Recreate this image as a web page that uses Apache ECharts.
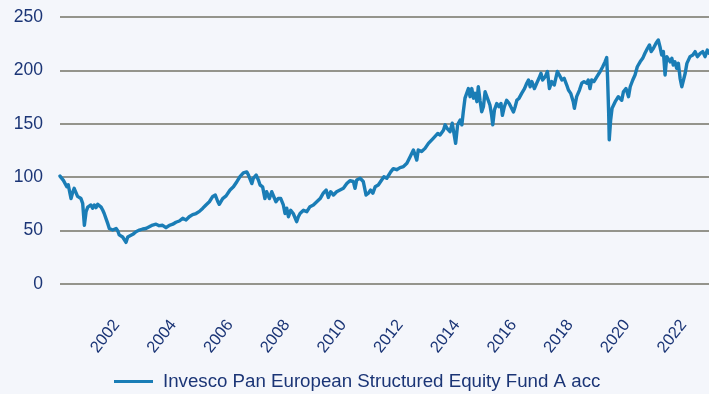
<!DOCTYPE html>
<html>
<head>
<meta charset="utf-8">
<script src="https://cdn.jsdelivr.net/npm/echarts@6/dist/echarts.min.js"></script>
<style>
  html, body { margin: 0; padding: 0; background: #f4f6fb; }
  #chart { width: 709px; height: 394px; }
</style>
</head>
<body>
<div id="chart"></div>
<script>
// Fund performance, rebased to 100 at the start of the period
const seriesName = 'Invesco Pan European Structured Equity Fund A acc';

// Time positions in decimal years
const years = [
  2000.00, 2000.04, 2000.12, 2000.19, 2000.24, 2000.29, 2000.35, 2000.39, 2000.45, 2000.50,
  2000.56, 2000.62, 2000.68, 2000.74, 2000.80, 2000.86, 2000.92, 2000.98, 2001.03, 2001.09,
  2001.15, 2001.21, 2001.27, 2001.33, 2001.39, 2001.45, 2001.51, 2001.56, 2001.62, 2001.68,
  2001.74, 2001.80, 2001.86, 2001.92, 2001.98, 2002.04, 2002.09, 2002.15, 2002.21, 2002.27,
  2002.33, 2002.39, 2002.45, 2002.57, 2002.68, 2002.80, 2002.92, 2003.03, 2003.15, 2003.27,
  2003.39, 2003.50, 2003.62, 2003.74, 2003.86, 2003.98, 2004.09, 2004.21, 2004.33, 2004.45,
  2004.56, 2004.68, 2004.80, 2004.92, 2005.04, 2005.15, 2005.27, 2005.39, 2005.48, 2005.57,
  2005.62, 2005.68, 2005.74, 2005.86, 2006.00, 2006.12, 2006.24, 2006.29, 2006.35, 2006.47,
  2006.59, 2006.65, 2006.71, 2006.77, 2006.82, 2006.92, 2007.00, 2007.06, 2007.15, 2007.23,
  2007.29, 2007.39, 2007.47, 2007.53, 2007.62, 2007.70, 2007.79, 2007.88, 2007.94, 2008.00,
  2008.06, 2008.14, 2008.23, 2008.29, 2008.35, 2008.41, 2008.47, 2008.59, 2008.71, 2008.82,
  2008.94, 2009.06, 2009.18, 2009.29, 2009.39, 2009.47, 2009.55, 2009.65, 2009.76, 2009.88,
  2010.00, 2010.12, 2010.23, 2010.35, 2010.41, 2010.47, 2010.59, 2010.70, 2010.80, 2010.88,
  2010.96, 2011.04, 2011.12, 2011.23, 2011.35, 2011.43, 2011.53, 2011.59, 2011.67, 2011.76,
  2011.88, 2012.00, 2012.12, 2012.24, 2012.35, 2012.47, 2012.53, 2012.59, 2012.64, 2012.76,
  2012.88, 2013.00, 2013.06, 2013.17, 2013.23, 2013.33, 2013.41, 2013.53, 2013.59, 2013.65,
  2013.70, 2013.76, 2013.84, 2013.91, 2013.96, 2014.03, 2014.12, 2014.18, 2014.23, 2014.29,
  2014.35, 2014.41, 2014.47, 2014.53, 2014.59, 2014.65, 2014.71, 2014.76, 2014.82, 2014.88,
  2014.94, 2015.00, 2015.06, 2015.11, 2015.17, 2015.23, 2015.27, 2015.33, 2015.41, 2015.49,
  2015.56, 2015.61, 2015.68, 2015.76, 2015.85, 2015.92, 2016.00, 2016.06, 2016.12, 2016.20,
  2016.29, 2016.39, 2016.47, 2016.53, 2016.59, 2016.65, 2016.74, 2016.82, 2016.90, 2016.97,
  2017.03, 2017.12, 2017.20, 2017.27, 2017.35, 2017.44, 2017.55, 2017.62, 2017.71, 2017.79,
  2017.88, 2017.94, 2018.02, 2018.11, 2018.15, 2018.23, 2018.33, 2018.41, 2018.49, 2018.59,
  2018.64, 2018.70, 2018.76, 2018.84, 2018.94, 2019.06, 2019.15, 2019.23, 2019.29, 2019.32,
  2019.36, 2019.38, 2019.43, 2019.48, 2019.53, 2019.59, 2019.65, 2019.70, 2019.76, 2019.82,
  2019.88, 2019.97, 2020.06, 2020.12, 2020.21, 2020.29, 2020.37, 2020.47, 2020.56, 2020.64,
  2020.73, 2020.80, 2020.86, 2020.94, 2021.03, 2021.11, 2021.17, 2021.23, 2021.29, 2021.35,
  2021.41, 2021.47, 2021.53, 2021.59, 2021.64, 2021.70, 2021.76, 2021.82, 2021.88, 2021.94,
  2022.00, 2022.06, 2022.12, 2022.17, 2022.23, 2022.33, 2022.41, 2022.49, 2022.59, 2022.68,
  2022.76, 2022.84, 2022.90
];

// Indexed fund value at each time position
const values = [
  101, 100.5, 97, 96, 91, 93, 85, 80, 86, 89.6,
  88, 82, 83, 80, 75.5, 55, 67.7, 72, 71, 74,
  71, 74, 71.5, 74.6, 74, 72, 69, 66, 61.5, 57,
  52, 53.6, 50.6, 49, 52, 49.6, 46, 47.5, 44, 42.8,
  39, 44, 43, 46.5, 49, 50.5, 51.5, 52, 53.6, 55.2,
  56, 54.6, 55, 52.7, 55, 56, 57.8, 59, 61.5, 60,
  63, 65, 66, 68, 71, 74, 77, 82, 83.3, 77,
  74.6, 75.5, 80, 82.5, 88, 91, 95.8, 94, 100.5, 104,
  105, 102, 103.6, 94, 99, 102, 97.4, 92.7, 91, 80,
  86.4, 80, 86.4, 85, 77, 80, 80, 74, 66, 71,
  63, 69, 66, 67.7, 58.4, 63, 66, 69, 67.7, 72.4,
  74, 77, 80, 85, 88, 81, 86.4, 83.3, 86.4, 88,
  89.6, 94, 96.7, 96, 89.6, 97.4, 99, 96, 83.3, 85,
  88, 85, 91, 92.7, 97.4, 100.5, 99, 97.4, 105, 108,
  107, 109, 110, 113, 119, 125.5, 124, 116, 125.5, 124,
  127, 131.7, 130, 136.4, 135, 141, 139.5, 144, 149, 146,
  147, 142.6, 150.5, 139.5, 131.7, 149, 153.6, 149, 161.3, 174,
  178.5, 183, 175.4, 183, 174, 178.5, 170.7, 184.7, 172, 161.3,
  166, 180, 181.6, 172, 167.6, 158, 149, 163, 169, 166,
  169, 158, 166, 172, 169, 170.7, 161, 166, 172, 174,
  178.5, 183, 188, 191, 184.7, 189.5, 183, 188, 192.6, 197.3,
  191, 194, 199, 183, 189.5, 186.3, 199, 195.7, 191, 192.6,
  186.3, 181.6, 178.5, 170.7, 164.5, 175.4, 181.6, 188, 189.5, 188,
  191, 183, 191, 189.5, 194, 199, 203.4, 208, 212, 194,
  160, 135, 153.6, 164.5, 163, 170.7, 172, 175.4, 177, 172,
  180, 183, 175.4, 184.7, 191, 195.7, 203.4, 208, 211.3, 216,
  220.7, 223.8, 217.6, 220.7, 225.4, 228.5, 222.2, 214.4, 217.6, 195.7,
  212.9, 214.4, 208, 211.3, 205, 208, 202, 206.6, 192.6, 184.7,
  191, 197.3, 206.6, 205, 212.9, 214.4, 217.6, 212.9, 216, 217.6,
  212.9, 219, 216
];

// Year labels shown along the time axis
const yearTicks = [2002, 2004, 2006, 2008, 2010, 2012, 2014, 2016, 2018, 2020, 2022];

const points = years.map((y, i) => [y, values[i]]);

const textColor = '#1b3576';
const lineColor = '#1a7db6';
const gridColor = '#94948c';
const fontFamily = 'Liberation Sans, Arial, sans-serif';

const chart = echarts.init(document.getElementById('chart'), null, { renderer: 'canvas' });
chart.setOption({
  backgroundColor: '#f4f6fb',
  animation: false,
  grid: { left: 60, right: 0, top: 17, bottom: 110, containLabel: false },
  legend: {
    data: [seriesName],
    left: 114,
    top: 372,
    padding: 0,
    icon: 'rect',
    itemWidth: 39,
    itemHeight: 3,
    textStyle: { color: textColor, fontSize: 18.7, fontFamily: fontFamily, padding: [0, 0, 0, 5] }
  },
  xAxis: {
    type: 'value',
    min: 2000,
    max: 2022.9,
    interval: 2,
    axisLine: { show: false },
    axisTick: { show: false },
    splitLine: { show: false },
    axisLabel: {
      rotate: 52,
      margin: 38,
      color: textColor,
      fontSize: 16.5,
      fontFamily: fontFamily,
      showMinLabel: false,
      showMaxLabel: false,
      formatter: v => (yearTicks.indexOf(Math.round(v)) >= 0 ? String(Math.round(v)) : '')
    }
  },
  yAxis: {
    type: 'value',
    min: 0,
    max: 250,
    interval: 50,
    axisLine: { show: false },
    axisTick: { show: false },
    splitLine: { show: true, lineStyle: { color: gridColor, width: 2 } },
    axisLabel: {
      margin: 17,
      color: textColor,
      fontSize: 17.5,
      fontFamily: fontFamily
    }
  },
  series: [{
    name: seriesName,
    type: 'line',
    data: points,
    showSymbol: false,
    symbol: 'none',
    lineStyle: { color: lineColor, width: 3.4, join: 'round', cap: 'round' },
    itemStyle: { color: lineColor }
  }]
});
</script>
</body>
</html>
